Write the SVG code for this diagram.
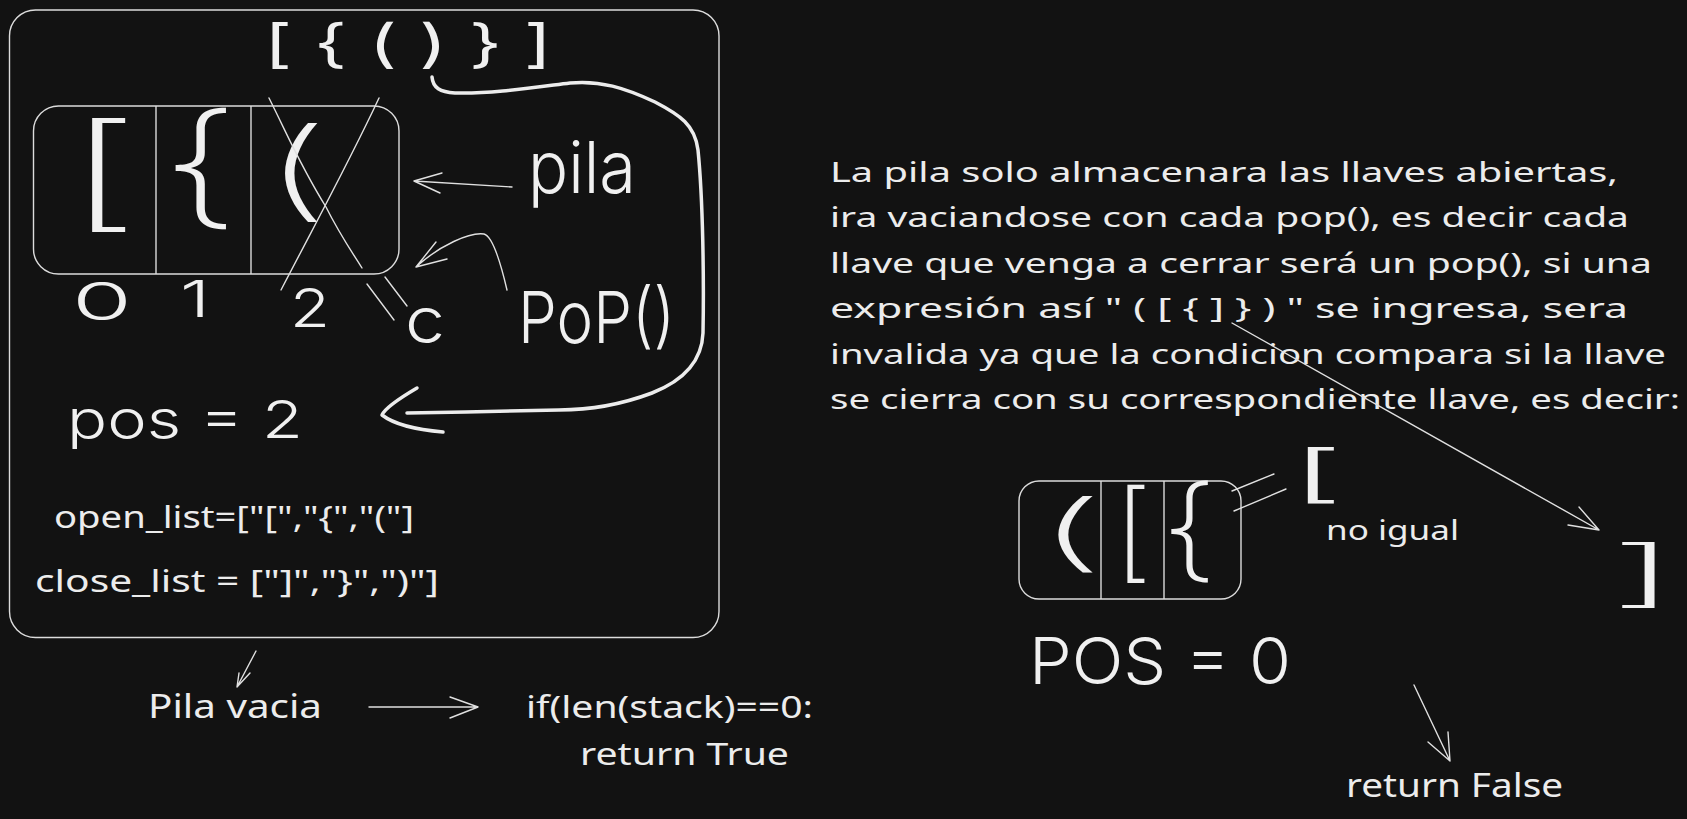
<svg xmlns="http://www.w3.org/2000/svg" width="1687" height="819" viewBox="0 0 1687 819">
<style>
.bg{fill:#121212}
.box{fill:none;stroke:#dcdcdc;stroke-width:1.4}
.thin{fill:none;stroke:#e0e0e0;stroke-width:1.4;stroke-linecap:round;stroke-linejoin:round}
.thick{fill:none;stroke:#ececec;stroke-width:3.5;stroke-linecap:round;stroke-linejoin:round}
.t{fill:#ececec;font-family:"Noto Sans","DejaVu Sans",sans-serif}
.h{fill:#f0f0f0;font-family:Inter,Roboto,"Noto Sans",sans-serif;font-weight:300}
.hl{fill:#f0f0f0;font-family:Inter,Roboto,"Noto Sans",sans-serif;font-weight:200}
.hb{fill:#f0f0f0;font-family:Inter,Roboto,"Noto Sans",sans-serif;font-weight:400}
</style>
<rect class="bg" x="0" y="0" width="1687" height="819"/>

<g id="frame">
<rect class="box" x="9.5" y="10" width="709.5" height="627.5" rx="26"/>
</g>

<g id="brackets-top">
<text class="hb" x="264" y="62" font-size="52" textLength="288" lengthAdjust="spacingAndGlyphs">[ { ( ) } ]</text>
</g>

<g id="stack1">
<rect class="box" x="33.5" y="106" width="365.5" height="168" rx="25"/>
<line class="box" x1="156" y1="106" x2="156" y2="274"/>
<line class="box" x1="251" y1="106" x2="251" y2="274"/>
<text class="hl" x="64" y="215" font-size="125" textLength="78" lengthAdjust="spacingAndGlyphs">[</text>
<text class="hl" x="160" y="211" font-size="134" textLength="80" lengthAdjust="spacingAndGlyphs">{</text>
<text class="hl" x="262" y="207" font-size="109" textLength="68" lengthAdjust="spacingAndGlyphs">(</text>
<path class="thin" stroke-width="2" d="M269,98 C290,140 300,165 326,207 C340,235 352,252 362,268"/>
<path class="thin" stroke-width="2" d="M379,98 C350,160 320,215 281,290"/>
</g>

<g id="indices">
<text class="h" x="72" y="320" font-size="52" textLength="60" lengthAdjust="spacingAndGlyphs">0</text>
<text class="h" x="180" y="317" font-size="50" textLength="30" lengthAdjust="spacingAndGlyphs">1</text>
<text class="h" x="290" y="327" font-size="54" textLength="40" lengthAdjust="spacingAndGlyphs">2</text>
</g>

<g id="label-c">
<text class="h" x="405" y="343" font-size="64" textLength="40" lengthAdjust="spacingAndGlyphs">c</text>
</g>

<g id="label-pila">
<text class="h" x="528" y="193" font-size="72" textLength="108" lengthAdjust="spacingAndGlyphs">pila</text>
</g>

<g id="label-pop">
<text class="h" x="518" y="343" font-size="72" textLength="157" lengthAdjust="spacingAndGlyphs">PoP()</text>
</g>

<g id="label-pos2">
<text class="h" x="67" y="438" font-size="52" textLength="236" lengthAdjust="spacingAndGlyphs">pos = 2</text>
</g>

<g id="lists">
<text class="t" x="54" y="528" font-size="31" textLength="360" lengthAdjust="spacingAndGlyphs">open_list=["[","{","("]</text>
<text class="t" x="35" y="592" font-size="31" textLength="404" lengthAdjust="spacingAndGlyphs">close_list = ["]","}",")"]</text>
</g>

<g id="pila-vacia">
<text class="t" x="148" y="718" font-size="32" textLength="174" lengthAdjust="spacingAndGlyphs">Pila vacia</text>
</g>

<g id="if-return">
<text class="t" x="526" y="718" font-size="30" textLength="287" lengthAdjust="spacingAndGlyphs">if(len(stack)==0:</text>
<text class="t" x="580" y="765" font-size="30" textLength="209" lengthAdjust="spacingAndGlyphs">return True</text>
</g>

<g id="paragraph">
<text class="t" x="830" y="182" font-size="28" textLength="788" lengthAdjust="spacingAndGlyphs">La pila solo almacenara las llaves abiertas,</text>
<text class="t" x="830" y="227" font-size="28" textLength="799" lengthAdjust="spacingAndGlyphs">ira vaciandose con cada pop(), es decir cada</text>
<text class="t" x="830" y="273" font-size="28" textLength="822" lengthAdjust="spacingAndGlyphs">llave que venga a cerrar será un pop(), si una</text>
<text class="t" x="830" y="318" font-size="28" textLength="798" lengthAdjust="spacingAndGlyphs">expresión así " ( [ { ] } ) " se ingresa, sera</text>
<text class="t" x="830" y="364" font-size="28" textLength="836" lengthAdjust="spacingAndGlyphs">invalida ya que la condicion compara si la llave</text>
<text class="t" x="830" y="409" font-size="28" textLength="850" lengthAdjust="spacingAndGlyphs">se cierra con su correspondiente llave, es decir:</text>
</g>

<g id="stack2">
<rect class="box" x="1019" y="481" width="222" height="118" rx="20"/>
<line class="box" x1="1101" y1="481" x2="1101" y2="599"/>
<line class="box" x1="1164" y1="481" x2="1164" y2="599"/>
<text class="hl" x="1034" y="561" font-size="84" textLength="72" lengthAdjust="spacingAndGlyphs">(</text>
<text class="hl" x="1113" y="568" font-size="108" textLength="40" lengthAdjust="spacingAndGlyphs">[</text>
<text class="hl" x="1160" y="567" font-size="112" textLength="58" lengthAdjust="spacingAndGlyphs">{</text>
</g>

<g id="bracket-open">
<text class="h" x="1290" y="495" font-size="62" textLength="54" lengthAdjust="spacingAndGlyphs">[</text>
</g>

<g id="no-igual">
<text class="t" x="1326" y="540" font-size="27" textLength="133" lengthAdjust="spacingAndGlyphs">no igual</text>
</g>

<g id="bracket-close">
<text class="hl" x="1606" y="598" font-size="72" textLength="76" lengthAdjust="spacingAndGlyphs">]</text>
</g>

<g id="pos0">
<text class="h" x="1029" y="684" font-size="64" textLength="262" lengthAdjust="spacingAndGlyphs">POS = 0</text>
</g>

<g id="return-false">
<text class="t" x="1346" y="797" font-size="33" textLength="217" lengthAdjust="spacingAndGlyphs">return False</text>
</g>

<g id="connectors">
<path class="thin" d="M512,187 L414,181 M442,173 L414,181 L440,193"/>
<path class="thin" d="M507,290 C500,260 492,236 484,234 C470,232 440,245 416,267 M436,242 L416,267 L447,259"/>
<path class="thin" d="M367,284 L394,320 M385,277 L407,306"/>
<path class="thick" d="M432,77 C433,88 440,92 455,93 C490,94 530,88 570,83 C600,80 625,88 655,102 C680,115 695,125 698,150 C703,200 704,280 703,333 C702,360 685,380 652,393 C620,405 590,410 559,410 L466,412 L407,413"/>
<path class="thick" d="M417,388 C400,398 385,408 382,415 C395,425 420,430 443,432"/>
<path class="thin" d="M256,651 L237,687 M239,673 L237,687 L250,673"/>
<path class="thin" d="M369,707 L478,707 M450,697 L478,707 L450,718"/>
<path class="thin" d="M1232,323 L1599,530 M1579,507 L1599,530 L1568,525"/>
<path class="thin" d="M1414,685 L1450,761 M1428,742 L1450,761 L1448,732"/>
<path class="thin" d="M1232,491 L1274,474 M1234,511 L1286,489"/>
</g>
</svg>
